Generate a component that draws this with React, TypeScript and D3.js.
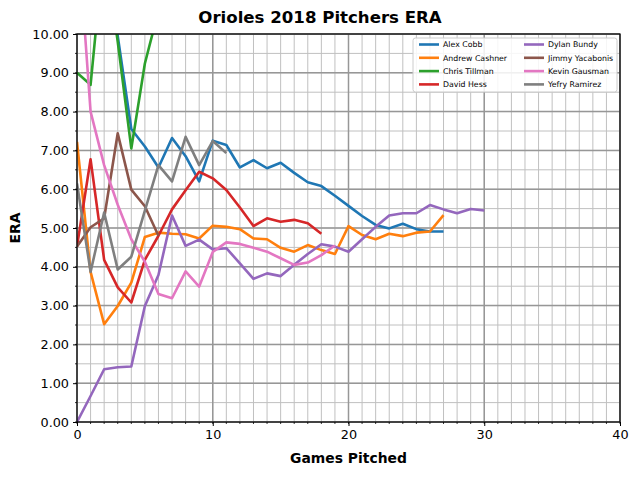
import { useEffect, useRef } from 'react';
import * as d3 from 'd3';

// ERA after each game pitched (index = games pitched)
const alexCobb = [13.5, 12.4, 12.1, 9.95, 7.55, 7.1, 6.56, 7.32, 6.85, 6.2, 7.25, 7.14, 6.56, 6.75, 6.54, 6.68, 6.42, 6.18, 6.08, 5.83, 5.57, 5.31, 5.08, 4.99, 5.11, 4.97, 4.91, 4.91];
const andrewCashner = [7.22, 3.87, 2.52, 2.99, 3.59, 4.77, 4.88, 4.85, 4.84, 4.73, 5.06, 5.03, 4.97, 4.73, 4.71, 4.49, 4.39, 4.56, 4.43, 4.33, 5.05, 4.82, 4.71, 4.85, 4.79, 4.88, 4.91, 5.33];
const chrisTillman = [9.0, 8.69, 12.3, 9.8, 7.05, 9.24, 10.6, 10.46];
const davidHess = [4.52, 6.77, 4.18, 3.47, 3.08, 4.18, 4.8, 5.48, 5.97, 6.45, 6.28, 5.98, 5.53, 5.05, 5.25, 5.16, 5.21, 5.12, 4.85];
const dylanBundy = [0.0, 0.67, 1.36, 1.41, 1.43, 2.99, 3.79, 5.32, 4.54, 4.7, 4.45, 4.48, 4.09, 3.69, 3.83, 3.76, 4.05, 4.33, 4.58, 4.52, 4.39, 4.71, 5.03, 5.32, 5.38, 5.38, 5.59, 5.48, 5.38, 5.49, 5.45];
const jimmyYacabonis = [4.52, 5.02, 5.25, 7.44, 5.99, 5.56, 4.8];
const kevinGausman = [12.9, 8.0, 6.62, 5.6, 4.71, 4.13, 3.3, 3.19, 3.88, 3.49, 4.38, 4.63, 4.59, 4.49, 4.39, 4.22, 4.05, 4.11, 4.3, 4.55];
const yefryRamirez = [6.15, 3.87, 5.4, 3.93, 4.26, 5.45, 6.62, 6.2, 7.35, 6.62, 7.24, 6.93];

const pitcherNames = ['Alex Cobb', 'Andrew Cashner', 'Chris Tillman', 'David Hess', 'Dylan Bundy', 'Jimmy Yacabonis', 'Kevin Gausman', 'Yefry Ramirez'];
const pitcherValues = [alexCobb, andrewCashner, chrisTillman, davidHess, dylanBundy, jimmyYacabonis, kevinGausman, yefryRamirez];
const colors = ['#1f77b4', '#ff7f0e', '#2ca02c', '#d62728', '#9467bd', '#8c564b', '#e377c2', '#7f7f7f'];

const xMajorTicks = [0, 10, 20, 30, 40];
const yMajorTicks = d3.range(0, 10.01, 1);

export default function App() {
    const svgRef = useRef<SVGSVGElement>(null);

    useEffect(() => {
        if (!svgRef.current) return;
        const svg = d3.select(svgRef.current);
        svg.selectAll('*').remove();

        const width = 640;
        const height = 480;
        const margin = { top: 34, right: 20, bottom: 58, left: 77 };
        const plotW = width - margin.left - margin.right;
        const plotH = height - margin.top - margin.bottom;
        const font = 'DejaVu Sans, sans-serif';

        svg.append('rect').attr('width', width).attr('height', height).attr('fill', 'white');

        const x = d3.scaleLinear().domain([0, 40]).range([0, plotW]);
        const y = d3.scaleLinear().domain([0, 10]).range([plotH, 0]);

        const g = svg.append('g').attr('transform', `translate(${margin.left},${margin.top})`);

        svg.append('defs').append('clipPath').attr('id', 'plotClip')
            .append('rect').attr('width', plotW).attr('height', plotH);

        // grid: minor first, major on top
        const xMinor = d3.range(0, 41, 1);
        const yMinor = d3.range(0, 10.01, 0.5);
        g.append('g').selectAll('line').data(xMinor).enter().append('line')
            .attr('x1', d => x(d)).attr('x2', d => x(d)).attr('y1', 0).attr('y2', plotH)
            .attr('stroke', '#c0c0c0').attr('stroke-width', 1);
        g.append('g').selectAll('line').data(yMinor).enter().append('line')
            .attr('y1', d => y(d)).attr('y2', d => y(d)).attr('x1', 0).attr('x2', plotW)
            .attr('stroke', '#c0c0c0').attr('stroke-width', 1);
        g.append('g').selectAll('line').data(xMajorTicks).enter().append('line')
            .attr('x1', d => x(d)).attr('x2', d => x(d)).attr('y1', 0).attr('y2', plotH)
            .attr('stroke', '#979797').attr('stroke-width', 1.5);
        g.append('g').selectAll('line').data(yMajorTicks).enter().append('line')
            .attr('y1', d => y(d)).attr('y2', d => y(d)).attr('x1', 0).attr('x2', plotW)
            .attr('stroke', '#979797').attr('stroke-width', 1.5);

        // lines
        const line = d3.line<number>().x((_, i) => x(i)).y(d => y(d));
        const lines = g.append('g').attr('clip-path', 'url(#plotClip)');
        pitcherValues.forEach((vals, i) => {
            lines.append('path').datum(vals)
                .attr('fill', 'none')
                .attr('stroke', colors[i])
                .attr('stroke-width', 2.6)
                .attr('stroke-linejoin', 'round')
                .attr('d', line);
        });

        // axes
        const xAxis = g.append('g').attr('transform', `translate(0,${plotH})`)
            .call(d3.axisBottom(x).tickValues(xMajorTicks).tickSize(4).tickPadding(4).tickFormat(d3.format('d')));
        const yAxis = g.append('g')
            .call(d3.axisLeft(y).tickValues(yMajorTicks).tickSize(4).tickPadding(4).tickFormat(d3.format('.2f')));
        [xAxis, yAxis].forEach(a => {
            a.select('.domain').remove();
            a.selectAll('text').style('font-family', font).style('font-size', '12.8px').attr('fill', '#000');
            a.selectAll('line').attr('stroke', '#000').attr('stroke-width', 1);
        });
        // minor ticks
        g.append('g').selectAll('line').data(xMinor).enter().append('line')
            .attr('x1', d => x(d)).attr('x2', d => x(d)).attr('y1', plotH).attr('y2', plotH + 2)
            .attr('stroke', '#000').attr('stroke-width', 0.8);
        g.append('g').selectAll('line').data(yMinor).enter().append('line')
            .attr('y1', d => y(d)).attr('y2', d => y(d)).attr('x1', 0).attr('x2', -2)
            .attr('stroke', '#000').attr('stroke-width', 0.8);

        // frame
        g.append('rect').attr('width', plotW).attr('height', plotH)
            .attr('fill', 'none').attr('stroke', '#000').attr('stroke-width', 1.2);

        // title (centred on the figure) and axis labels
        svg.append('text').attr('x', width / 2).attr('y', 23)
            .attr('text-anchor', 'middle').style('font-family', font).style('font-size', '16.6px')
            .style('font-weight', 'bold').text('Orioles 2018 Pitchers ERA');
        svg.append('text').attr('x', margin.left + plotW / 2).attr('y', 463)
            .attr('text-anchor', 'middle').style('font-family', font).style('font-size', '13.9px')
            .style('font-weight', 'bold').text('Games Pitched');
        svg.append('text').attr('transform', `translate(20,${margin.top + plotH / 2}) rotate(-90)`)
            .attr('text-anchor', 'middle').style('font-family', font).style('font-size', '13.9px')
            .style('font-weight', 'bold').text('ERA');

        // legend
        const legend = svg.append('g').attr('transform', 'translate(413,38)');
        legend.append('rect').attr('width', 204).attr('height', 54).attr('rx', 2.5)
            .attr('fill', 'white').attr('fill-opacity', 0.85)
            .attr('stroke', '#cccccc').attr('stroke-width', 1);
        pitcherNames.forEach((name, i) => {
            const col = Math.floor(i / 4);
            const row = i % 4;
            const item = legend.append('g')
                .attr('transform', `translate(${6 + col * 105},${6.5 + row * 13.3})`);
            item.append('line').attr('x1', 0).attr('x2', 20).attr('y1', 0).attr('y2', 0)
                .attr('stroke', colors[i]).attr('stroke-width', 2.6);
            item.append('text').attr('x', 24).attr('y', 2.8)
                .style('font-family', font).style('font-size', '7.8px').text(name);
        });
    }, []);

    return (
        <svg
            ref={svgRef}
            width={640}
            height={480}
            style={{ position: 'absolute', left: 0, top: 0 }}
        />
    );
}
